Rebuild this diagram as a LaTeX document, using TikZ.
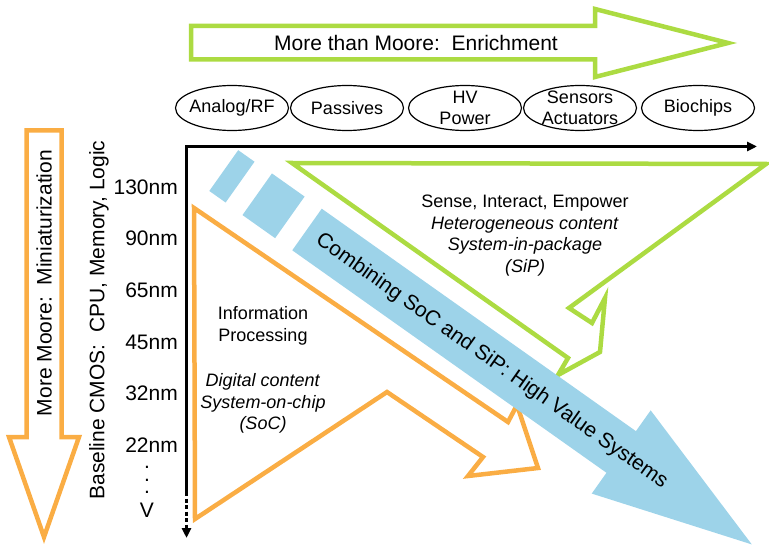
\documentclass[tikz,border=0pt]{standalone}
\usepackage{fontspec}
\setmainfont{Liberation Sans}
\usepackage{tikz}
\usetikzlibrary{arrows.meta, shapes.geometric}
\definecolor{lightgreen}{RGB}{172,219,66}
\definecolor{lightorange}{RGB}{250,173,68}
\definecolor{lightblue}{RGB}{157,211,233}

\begin{document}
\begin{tikzpicture}[x=1bp, y=-1bp,
  big/.style={font=\fontsize{21bp}{25bp}\selectfont, inner sep=0pt},
  small/.style={font=\fontsize{18bp}{21.5bp}\selectfont, align=center, inner sep=0pt},
  tag/.style={draw, ellipse, line width=1.2bp, minimum width=113bp, minimum height=45bp, inner sep=0pt},
  gshape/.style={draw=lightgreen, line width=4.5bp},
  oshape/.style={draw=lightorange, line width=4.5bp},
  axisline/.style={line width=3bp, -{Triangle[length=10bp, width=9bp]}},
  nmlabel/.style={big, anchor=east}]
  \useasboundingbox (0,0) rectangle (769,549);
  \draw[gshape] (191,26) -- (595,26) -- (595,9) -- (728,43) -- (595,77) -- (595,59.5) -- (191,59.5) -- cycle;
  \node[big] (enrich) at (416,43) {More than Moore:\ \ Enrichment};
  \node[tag, label={[small]center:Analog/RF}] (analog) at (232,108) {};
  \node[tag, label={[small]center:Passives}] (passive) at (347,108) {};
  \node[tag, label={[small]center:{HV\\Power}}] (hvpower) at (465,108) {};
  \node[tag, label={[small]center:{Sensors\\Actuators}}] (sensor) at (580,108) {};
  \node[tag, label={[small]center:Biochips}] (biochip) at (698,108) {};
  \draw[oshape] (26.5,130.5) -- (61.5,130.5) -- (61.5,437) -- (79,437) -- (44,537) -- (9,437) -- (26.5,437) -- cycle;
  \node[big, rotate=90] (mini) at (44,283) {More Moore:\ \ Miniaturization};
  \node[big, rotate=90] (cmos) at (99,320) {Baseline CMOS:\ \ CPU, Memory, Logic};
  \foreach \t/\y in {130nm/187, 90nm/238, 65nm/290, 45nm/342, 32nm/393, 22nm/445}
    \node[nmlabel] (n\t) at (178,\y) {\t};
  \foreach \y [count=\i] in {467,480,492}
    \node[big] (dot\i) at (147,\y) {.};
  \node[big] (vee) at (147,510) {V};
  \coordinate (origin) at (186.5,146.5);
  \coordinate (xend) at (757,146.5);
  \coordinate (ysolid) at (186.5,492);
  \coordinate (yend) at (186.5,538);
  \draw[axisline] (ysolid) -- (origin) -- (xend);
  \draw[axisline, dash pattern=on 4bp off 2.5bp] (ysolid) -- (yend);
  \draw[oshape] (194,208) -- (508,422) -- (517,405) -- (538,468) -- (468,476) -- (483,457) -- (387,392) -- (195,519) -- cycle;
  \draw[gshape] (292,163) -- (766,164) -- (569,308) -- (592,323) -- (605,298) -- (600,352) -- (558,375) -- (568,358) -- cycle;
  \node[small] (sip) at (525,235.5) {Sense, Interact, Empower\\\textit{Heterogeneous content}\\\textit{System-in-package}\\\textit{(SiP)}};
  \node[small] (info) at (263,326) {Information\\Processing};
  \node[small] (soc) at (263,403.5) {\textit{Digital content}\\\textit{System-on-chip}\\\textit{(SoC)}};
  \begin{scope}[shift={(307,229.5)}, rotate=-35.3]
    \fill[lightblue] (-102,-25) rectangle (-82,25);
    \fill[lightblue] (-61,-25.5) rectangle (-21,25.5);
    \fill[lightblue] (0,-25.5) -- (385,-25.5) -- (385,-51) -- (545,0) -- (385,51) -- (385,25.5) -- (0,25.5) -- cycle;
    \node[big, rotate=-35.3] (combine) at (227,1) {Combining SoC and SiP: High Value Systems};
  \end{scope}
\end{tikzpicture}
\end{document}
